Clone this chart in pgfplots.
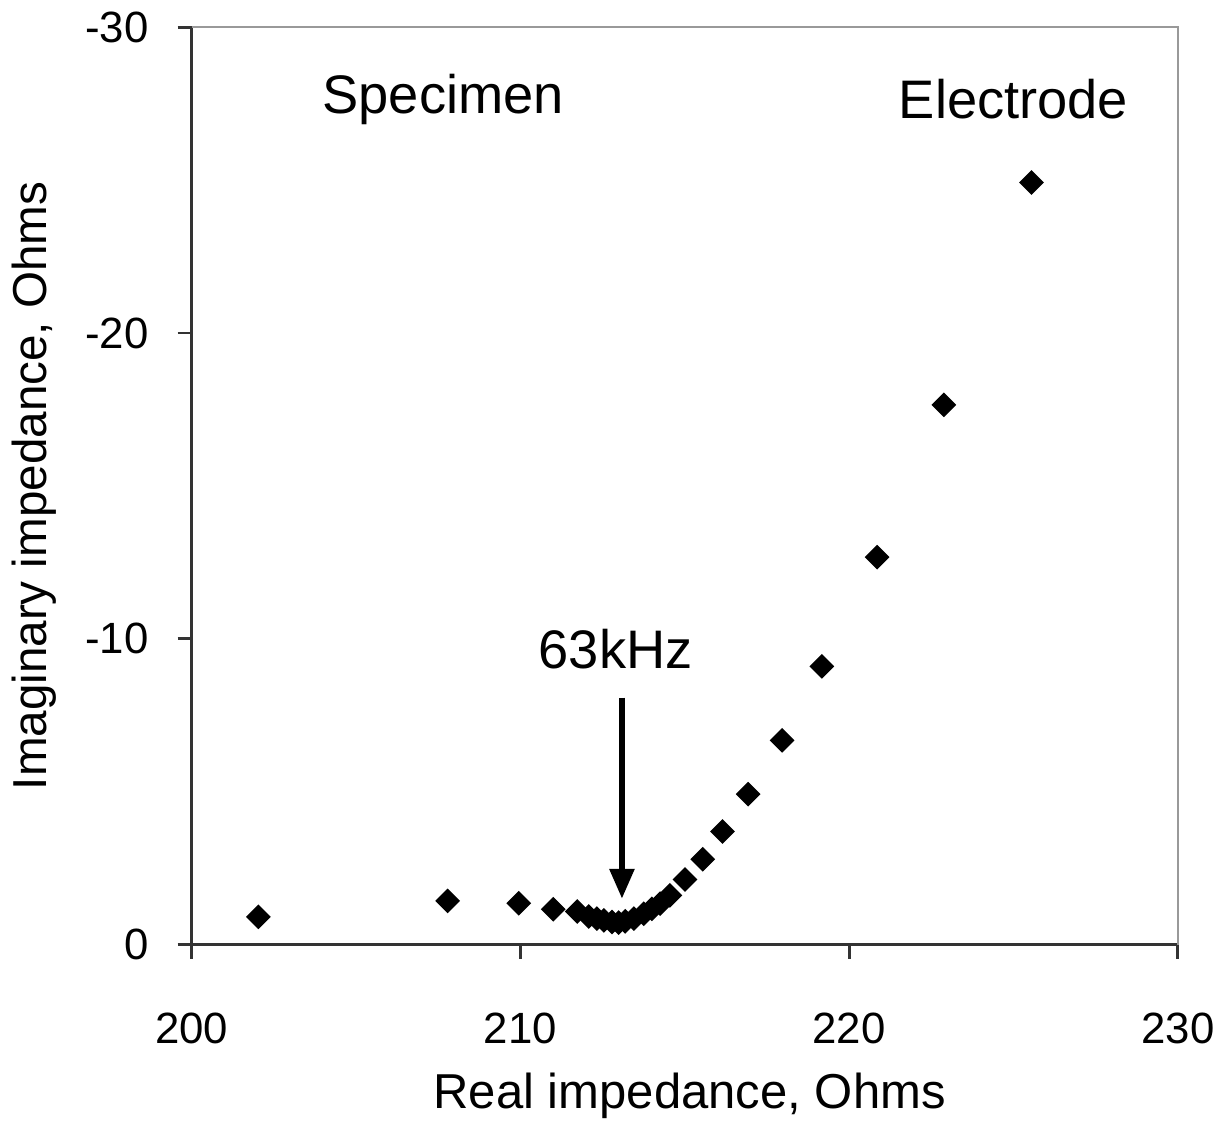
\documentclass[border=0pt]{standalone}
\usepackage{pgfplots}
\pgfplotsset{compat=1.18}
\usepackage{fontspec}
\setmainfont{Liberation Sans}
\usetikzlibrary{arrows.meta}

\begin{document}
\begin{tikzpicture}
\begin{axis}[
    scale only axis,
    width=9.9cm, height=9.21cm,
    xmin=200, xmax=230, ymin=-30, ymax=0,
    y dir=reverse,
    axis x line*=bottom, axis y line*=left,
    axis line style={black!80, line width=0.9pt},
    xtick={200,210,220,230},
    ytick={-30,-20,-10,0},
    yticklabels={-30,-20,-10,0},
    xticklabels={200,210,220,230},
    tick align=outside,
    major tick length=0.14cm,
    tick style={black!80, line width=0.8pt},
    xticklabel style={font=\fontsize{12.5}{14}\selectfont, yshift=-0.42cm},
    yticklabel style={font=\fontsize{12.5}{14}\selectfont, xshift=-0.17cm},
    xlabel={Real impedance, Ohms},
    ylabel={Imaginary impedance, Ohms},
    xlabel style={font=\fontsize{14}{16}\selectfont, at={(axis description cs:0.505,-0.165)}, anchor=center},
    ylabel style={font=\fontsize{13.6}{16}\selectfont, at={(axis description cs:-0.16,0.5)}, anchor=center},
    clip=false,
]
\draw[black!40, line width=0.7pt] (rel axis cs:0,1) -- (rel axis cs:1,1) -- (rel axis cs:1,0);
\addplot[only marks, mark=square*, mark options={rotate=45}, mark size=2.3pt, black] coordinates {
(202.03,-0.91) (207.79,-1.43) (209.95,-1.35) (211.00,-1.16) (211.73,-1.08)
(212.08,-0.92) (212.33,-0.85) (212.54,-0.79) (212.79,-0.74) (212.99,-0.72)
(213.19,-0.76) (213.45,-0.85) (213.75,-1.01) (214.00,-1.17) (214.25,-1.34)
(214.55,-1.61) (215.01,-2.13) (215.55,-2.79) (216.15,-3.70) (216.93,-4.92)
(217.96,-6.68) (219.17,-9.10) (220.85,-12.67) (222.88,-17.65) (225.55,-24.92)
};
\node[font=\fontsize{15.5}{18}\selectfont] at (axis cs:207.65,-27.65) {Specimen};
\node[font=\fontsize{15.5}{18}\selectfont] at (axis cs:225.0,-27.65) {Electrode};
\node[font=\fontsize{15.5}{18}\selectfont] at (axis cs:212.9,-9.65) {63kHz};
\draw[line width=1.7pt, -{Triangle[length=0.3cm, width=0.24cm]}] (axis cs:213.09,-8.08) -- (axis cs:213.09,-1.5);
\end{axis}
\end{tikzpicture}
\end{document}
